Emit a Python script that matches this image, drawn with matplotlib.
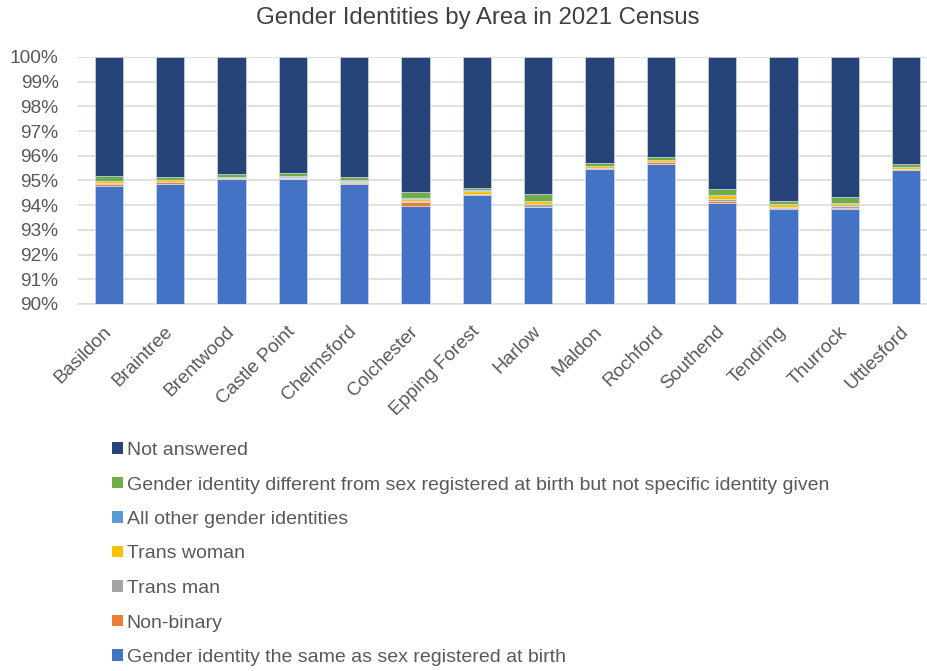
import matplotlib
matplotlib.use('Agg')
import matplotlib.pyplot as plt
from matplotlib.patches import Patch
from matplotlib.ticker import FuncFormatter
import numpy as np

plt.rcParams['font.family'] = ['Liberation Sans', 'DejaVu Sans']

# areas along the x axis
areas = ['Basildon', 'Braintree', 'Brentwood', 'Castle Point', 'Chelmsford',
         'Colchester', 'Epping Forest', 'Harlow', 'Maldon', 'Rochford',
         'Southend', 'Tendring', 'Thurrock', 'Uttlesford']

# percentages (stacked bottom -> top)
same_as_birth = [94.76, 94.84, 95.05, 95.06, 94.87, 93.98, 94.42,
                 93.91, 95.47, 95.68, 94.09, 93.86, 93.86, 95.42]
non_binary = [0.10, 0.08, 0.02, 0.02, 0.04, 0.13, 0.02,
              0.03, 0.02, 0.06, 0.09, 0.02, 0.03, 0.02]
trans_man = [0.05, 0.03, 0.02, 0.02, 0.03, 0.05, 0.03,
             0.10, 0.02, 0.02, 0.07, 0.03, 0.08, 0.03]
trans_woman = [0.07, 0.06, 0.06, 0.06, 0.05, 0.10, 0.12,
               0.13, 0.06, 0.06, 0.15, 0.12, 0.06, 0.06]
other_identities = [0.02, 0.02, 0.01, 0.01, 0.02, 0.05, 0.01,
                    0.02, 0.01, 0.01, 0.02, 0.01, 0.05, 0.01]
different_unspecified = [0.20, 0.12, 0.11, 0.12, 0.13, 0.21, 0.10,
                         0.28, 0.11, 0.12, 0.24, 0.14, 0.25, 0.11]
not_answered = [4.80, 4.85, 4.73, 4.71, 4.86, 5.48, 5.30,
                5.53, 4.31, 4.05, 5.34, 5.82, 5.67, 4.35]

series = [
  ('Gender identity the same as sex registered at birth', same_as_birth, '#4472C4'),
  ('Non-binary', non_binary, '#ED7D31'),
  ('Trans man', trans_man, '#A5A5A5'),
  ('Trans woman', trans_woman, '#FFC000'),
  ('All other gender identities', other_identities, '#5B9BD5'),
  ('Gender identity different from sex registered at birth but not specific identity given',
   different_unspecified, '#70AD47'),
  ('Not answered', not_answered, '#264478'),
]

text_grey = '#595959'

fig = plt.figure(figsize=(9.28, 6.71), dpi=100)
# plot area runs slightly past the right edge, like the cropped original
ax = fig.add_axes([78 / 928, 1 - 304 / 671, 859 / 928, 247 / 671])

x = np.arange(len(areas))
bottom = np.zeros(len(areas))
handles = []
for name, vals, colour in series:
  vals = np.array(vals)
  ax.bar(x, vals, 0.46, bottom=bottom, color=colour,
         edgecolor='#dce4f2', linewidth=0.4, zorder=3)
  bottom += vals
  handles.append(Patch(facecolor=colour, label=name))

ax.set_ylim(90, 100)
ax.set_xlim(-0.5, len(areas) - 0.5)
ax.set_yticks(np.arange(90, 101, 1))
ax.yaxis.set_major_formatter(FuncFormatter(lambda v, p: '%d%%' % v))
ax.grid(axis='y', color='#D9D9D9', linewidth=1.1, zorder=0)
for s in ['top', 'right', 'left']:
  ax.spines[s].set_visible(False)
ax.spines['bottom'].set_color('#D9D9D9')
ax.spines['bottom'].set_linewidth(1.1)

ax.set_xticks(x)
ax.set_xticklabels(areas, rotation=45, ha='right', va='center',
                   rotation_mode='anchor')
ax.tick_params(axis='both', length=0, labelsize=13.8, labelcolor=text_grey)
ax.tick_params(axis='y', pad=14)
ax.tick_params(axis='x', pad=18)

fig.text(478 / 928, 1 - 18 / 671, 'Gender Identities by Area in 2021 Census',
         ha='center', va='center', fontsize=17.3, color='#404040')

# legend in reverse order, top = Not answered
leg = fig.legend(handles=handles[::-1], loc='upper left',
                 bbox_to_anchor=(112 / 928, 1 - 442 / 671), frameon=False,
                 fontsize=14.0, handlelength=0.55, handleheight=0.55,
                 handletextpad=0.2, labelspacing=0.90, borderpad=0,
                 borderaxespad=0)
for t in leg.get_texts():
  t.set_color(text_grey)

fig.savefig('out.png', dpi=100)
